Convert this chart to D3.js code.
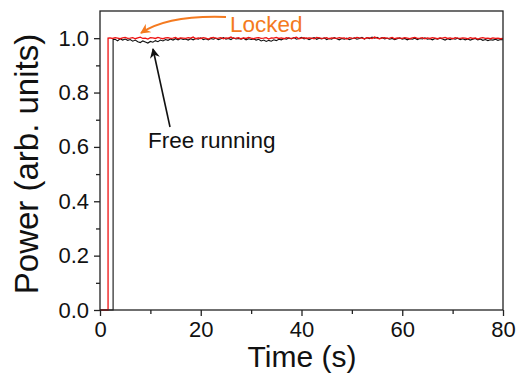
<!DOCTYPE html>
<html><head><meta charset="utf-8">
<script src="https://cdn.jsdelivr.net/npm/d3@7"></script>
<style>
body{margin:0;background:#fff;}
text{font-family:"Liberation Sans",Arial,sans-serif;}
</style></head><body>
<svg id="c" width="521" height="375"></svg>
<script>
// ---- data ----
const xTicks = [0, 20, 40, 60, 80];
const yTicks = [0, 0.2, 0.4, 0.6, 0.8, 1.0];
const redStep = [[0, 0], [1.6, 0], [1.6, 1.0]];
const blackStep = [[0, 0], [2.6, 0], [2.6, 0.995]];
const redTimeStart = 2, blackTimeStart = 3, dt = 0.5;
const redValues = [
1.001,0.999,1.002,1.000,0.998,1.001,1.003,0.999,1.000,1.002,
0.998,1.001,1.004,0.999,1.000,0.997,1.002,1.001,0.999,1.003,
1.000,0.998,1.001,1.002,0.999,1.000,1.003,0.998,1.001,1.000,
0.999,1.002,1.000,1.004,0.998,1.001,0.999,1.002,1.000,0.997,
1.001,1.003,0.999,1.000,1.002,0.998,1.001,1.000,1.004,0.999,
1.000,1.002,0.998,1.001,0.999,1.003,1.000,0.998,1.001,1.002,
0.999,1.000,1.002,0.997,1.001,1.000,1.003,0.999,1.001,0.998,
1.002,1.000,0.999,1.001,1.004,0.998,1.000,1.002,0.999,1.001,
1.000,0.998,1.003,1.001,0.999,1.000,1.002,0.998,1.001,1.000,
0.999,1.002,1.000,1.001,0.997,1.002,1.000,0.999,1.003,1.001,
1.000,0.998,1.002,1.001,0.999,1.004,1.000,0.998,1.001,1.002,
0.999,1.000,1.003,0.998,1.001,1.000,0.999,1.002,1.000,0.998,
1.001,1.003,0.999,1.000,1.002,0.998,1.001,0.999,1.002,1.000,
0.998,1.001,1.000,1.003,0.999,1.001,0.998,1.002,1.000,0.999,
1.001,1.000,0.998,1.002,0.999,1.001,0.997,1.000,1.002,0.999,
1.000,0.998,1.001,0.999,1.000,0.998,0.999];
const blackValues = [
0.996,0.990,0.998,0.993,0.997,0.992,0.995,0.989,0.993,0.987,
0.984,0.990,0.986,0.982,0.988,0.985,0.991,0.987,0.993,0.990,
0.995,0.992,0.997,0.993,0.998,0.994,0.999,0.995,0.997,0.993,
0.998,0.994,0.999,0.996,1.001,0.995,0.998,0.994,0.999,0.996,
1.000,0.995,0.998,1.002,0.996,0.999,0.995,1.001,0.997,0.999,
0.996,1.000,0.994,0.998,0.995,0.997,0.993,0.996,0.990,0.993,
0.988,0.992,0.989,0.994,0.991,0.996,0.994,0.999,0.996,1.001,
0.997,1.002,0.996,0.999,1.003,0.997,1.000,0.995,0.999,1.002,
0.996,1.000,0.997,1.001,0.995,0.999,0.996,1.002,0.998,0.994,
0.999,0.996,1.000,0.995,0.998,1.001,0.996,0.999,1.003,0.997,
1.002,0.998,1.004,1.000,1.003,0.998,1.002,0.997,1.000,0.996,
0.999,0.995,0.998,1.001,0.996,0.999,0.994,0.998,0.996,1.000,
0.995,0.999,0.997,1.001,0.996,0.998,0.994,0.999,0.996,1.000,
0.997,0.993,0.998,0.995,0.999,0.996,1.000,0.995,0.998,0.994,
0.997,0.993,0.996,0.999,0.994,0.997,0.992,0.995,0.991,0.994,
0.993,0.996,0.992,0.995,0.994];

// ---- layout ----
const L = 100, R = 503, T = 11, B = 310;
const svg = d3.select("#c");
const x = d3.scaleLinear().domain([0, 80]).range([L, R]);
const y = d3.scaleLinear().domain([0, 1.1]).range([B, T]);

const redData = redStep.concat(redValues.map((v, i) => [redTimeStart + i * dt, v]));
const blackData = blackStep.concat(blackValues.map((v, i) => [blackTimeStart + i * dt, v]));
const line = d3.line().x(d => x(d[0])).y(d => y(d[1]));

svg.append("path").datum(blackData).attr("d", line)
  .attr("fill", "none").attr("stroke", "#111").attr("stroke-width", 1.1);
svg.append("path").datum(redData).attr("d", line)
  .attr("fill", "none").attr("stroke", "#ee1111").attr("stroke-width", 1.3);

// frame
svg.append("rect").attr("x", L).attr("y", T).attr("width", R - L).attr("height", B - T)
  .attr("fill", "none").attr("stroke", "#222").attr("stroke-width", 1.3);

// axes
const xAxis = d3.axisBottom(x).tickValues(xTicks).tickSize(6).tickPadding(5).tickFormat(d3.format("d"));
const xMinor = d3.axisBottom(x).tickValues([10, 30, 50, 70]).tickSize(4).tickFormat("");
const yAxis = d3.axisLeft(y).tickValues(yTicks).tickSize(6).tickPadding(5).tickFormat(d3.format(".1f"));
const yMinor = d3.axisLeft(y).tickValues([0.1, 0.3, 0.5, 0.7, 0.9]).tickSize(4).tickFormat("");
[svg.append("g").attr("transform", `translate(0,${B})`).call(xAxis),
 svg.append("g").attr("transform", `translate(0,${B})`).call(xMinor),
 svg.append("g").attr("transform", `translate(${L},0)`).call(yAxis),
 svg.append("g").attr("transform", `translate(${L},0)`).call(yMinor)].forEach(g => {
  g.select(".domain").remove();
  g.selectAll("line").attr("stroke", "#222").attr("stroke-width", 1.3);
  g.selectAll("text").attr("font-size", 22).attr("fill", "#111")
   .style("font-family", '"Liberation Sans",Arial,sans-serif');
});

// titles
svg.append("text").attr("x", 302).attr("y", 367).attr("text-anchor", "middle")
  .attr("font-size", 30).attr("fill", "#111").text("Time (s)");
svg.append("text").attr("transform", `translate(38,164) rotate(-90)`)
  .attr("text-anchor", "middle").attr("font-size", 33).attr("fill", "#111").text("Power (arb. units)");

// annotations
const defs = svg.append("defs");
function marker(id, color) {
  defs.append("marker").attr("id", id).attr("viewBox", "0 0 10 10").attr("refX", 9).attr("refY", 5)
    .attr("markerWidth", 10).attr("markerHeight", 10).attr("markerUnits", "userSpaceOnUse")
    .attr("orient", "auto").append("path").attr("d", "M0,0 L10,5 L0,10 L3,5 Z").attr("fill", color);
}
marker("ao", "#f47a20");
marker("ak", "#111");
svg.append("path").attr("d", "M226,17 Q168,15 141,33").attr("fill", "none")
  .attr("stroke", "#f47a20").attr("stroke-width", 2).attr("marker-end", "url(#ao)");
svg.append("text").attr("x", 230).attr("y", 32).attr("font-size", 22.5).attr("fill", "#f47a20").text("Locked");
svg.append("line").attr("x1", 170).attr("y1", 127).attr("x2", 153).attr("y2", 49)
  .attr("stroke", "#111").attr("stroke-width", 1.6).attr("marker-end", "url(#ak)");
svg.append("text").attr("x", 148).attr("y", 148).attr("font-size", 22.5).attr("fill", "#111").text("Free running");
</script></body></html>
